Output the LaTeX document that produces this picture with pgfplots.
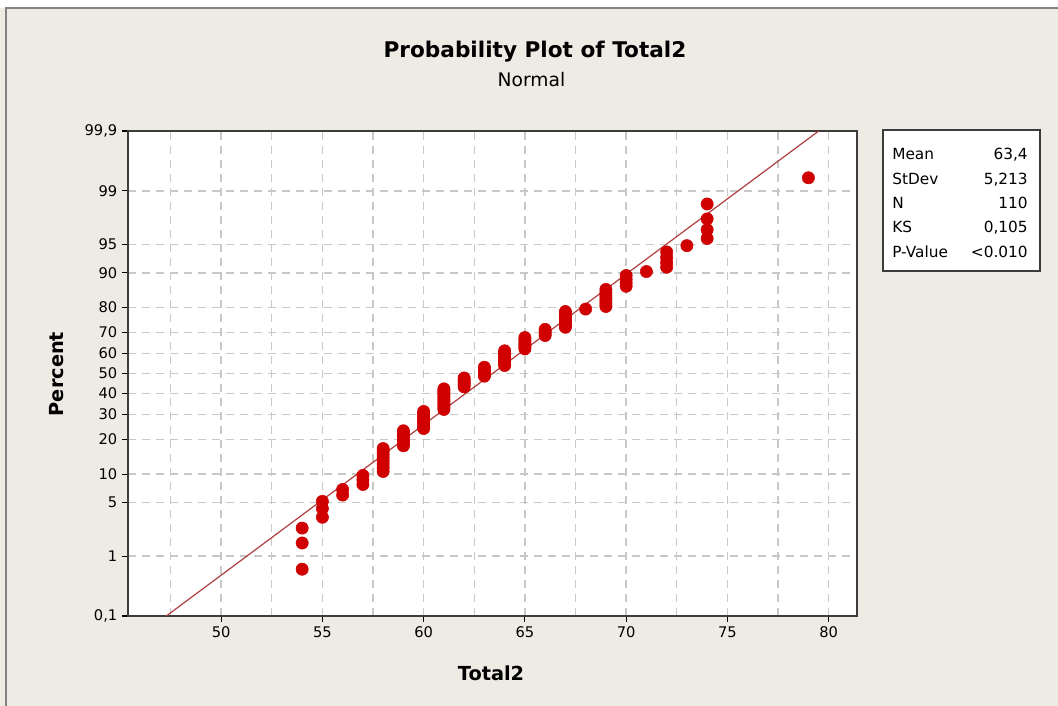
\documentclass[border=0pt]{standalone}
\usepackage{fontspec}
\setmainfont{DejaVu Sans}
\usepackage{pgfplots}
\pgfplotsset{compat=1.18}
\definecolor{bg}{RGB}{238,234,228}
\definecolor{ptred}{RGB}{208,0,0}
\definecolor{fitline}{RGB}{176,64,64}
\definecolor{gridc}{RGB}{200,200,200}
\definecolor{framec}{RGB}{60,60,60}
\definecolor{borderc}{RGB}{130,130,130}

\pgfplotstableread{
x z
54 -2.494
54 -2.160
54 -1.970
55 -1.832
55 -1.721
55 -1.629
56 -1.549
56 -1.478
57 -1.414
57 -1.354
57 -1.299
58 -1.248
58 -1.200
58 -1.155
58 -1.112
58 -1.071
58 -1.031
58 -0.993
58 -0.957
59 -0.921
59 -0.887
59 -0.854
59 -0.821
59 -0.790
59 -0.760
59 -0.730
60 -0.701
60 -0.672
60 -0.643
60 -0.615
60 -0.589
60 -0.562
60 -0.535
60 -0.509
60 -0.484
61 -0.458
61 -0.434
61 -0.409
61 -0.385
61 -0.360
61 -0.336
61 -0.313
61 -0.289
61 -0.265
61 -0.242
61 -0.219
61 -0.196
62 -0.171
62 -0.148
62 -0.125
62 -0.102
62 -0.080
62 -0.057
63 -0.034
63 -0.011
63 0.011
63 0.034
63 0.057
63 0.080
64 0.102
64 0.125
64 0.148
64 0.171
64 0.196
64 0.219
64 0.242
64 0.265
64 0.289
65 0.313
65 0.336
65 0.360
65 0.385
65 0.409
65 0.434
65 0.458
66 0.484
66 0.509
66 0.535
66 0.562
67 0.589
67 0.615
67 0.643
67 0.672
67 0.701
67 0.730
67 0.760
67 0.790
68 0.821
69 0.854
69 0.887
69 0.921
69 0.957
69 0.993
69 1.031
69 1.071
70 1.112
70 1.155
70 1.200
70 1.248
71 1.299
72 1.354
72 1.414
72 1.478
72 1.549
73 1.629
74 1.721
74 1.832
74 1.970
74 2.160
79 2.494
}\datatable

\begin{document}
\begin{tikzpicture}[x=0.75pt,y=0.75pt]
\useasboundingbox (0,0) rectangle (1058,706);
\fill[bg] (0,0) rectangle (1058,698);
\draw[borderc, line width=1.1pt] (6,0) -- (6,698) -- (1058,698);
\node[font=\bfseries\fontsize{16.2}{19}\selectfont, anchor=base] at (535,648) {Probability Plot of Total2};
\node[font=\fontsize{14}{17}\selectfont, anchor=base] at (531.5,619) {Normal};
\node[font=\bfseries\fontsize{14.5}{17}\selectfont, rotate=90] at (57,332) {Percent};
\node[font=\bfseries\fontsize{14.5}{17}\selectfont, anchor=base] at (491,25) {Total2};

\begin{axis}[
  at={(96pt,67.5pt)}, anchor=south west,
  scale only axis, width=546.75pt, height=363.75pt,
  xmin=45.4, xmax=81.4, ymin=-3.0902, ymax=3.0902,
  axis background/.style={fill=white},
  axis line style={framec, line width=1.1pt},
  xtick={50,55,60,65,70,75,80},
  xticklabels={50,55,60,65,70,75,80},
  minor xtick={47.5,52.5,57.5,62.5,67.5,72.5,77.5},
  ytick={-3.0902,-2.3263,-1.6449,-1.2816,-0.8416,-0.5244,-0.2533,0,0.2533,0.5244,0.8416,1.2816,1.6449,2.3263,3.0902},
  yticklabels={{0,1},1,5,10,20,30,40,50,60,70,80,90,95,99,{99,9}},
  xmajorgrids, ymajorgrids, xminorgrids,
  major grid style={gridc, dash pattern=on 6pt off 4.5pt, line width=1pt},
  minor grid style={gridc, dash pattern=on 6pt off 4.5pt, line width=1pt},
  tick align=outside, major tick length=4.5pt, minor tick length=0pt,
  xtick pos=bottom, ytick pos=left,
  major tick style={black, line width=0.8pt},
  tick label style={font=\fontsize{11}{13}\selectfont},
]
\addplot[fitline, line width=0.9pt] coordinates {(47.29,-3.0902) (79.51,3.0902)};
\addplot[only marks, mark=*, mark size=4.6pt, mark options={draw=ptred, fill=ptred}] table[x=x, y=z] {\datatable};
\end{axis}

\draw[framec, fill=white, line width=0.8pt] (883,576) rectangle (1040,435);
\begin{scope}[every node/.style={font=\fontsize{11.5}{13}\selectfont, inner sep=0pt}]
\node[anchor=base west] at (892,546) {Mean};
\node[anchor=base west] at (892,521) {StDev};
\node[anchor=base west] at (892,497) {N};
\node[anchor=base west] at (892,473) {KS};
\node[anchor=base west] at (892,448) {P-Value};
\node[anchor=base east] at (1028,546) {63,4};
\node[anchor=base east] at (1028,521) {5,213};
\node[anchor=base east] at (1028,497) {110};
\node[anchor=base east] at (1028,473) {0,105};
\node[anchor=base east] at (1028,448) {<0.010};
\end{scope}
\end{tikzpicture}
\end{document}
